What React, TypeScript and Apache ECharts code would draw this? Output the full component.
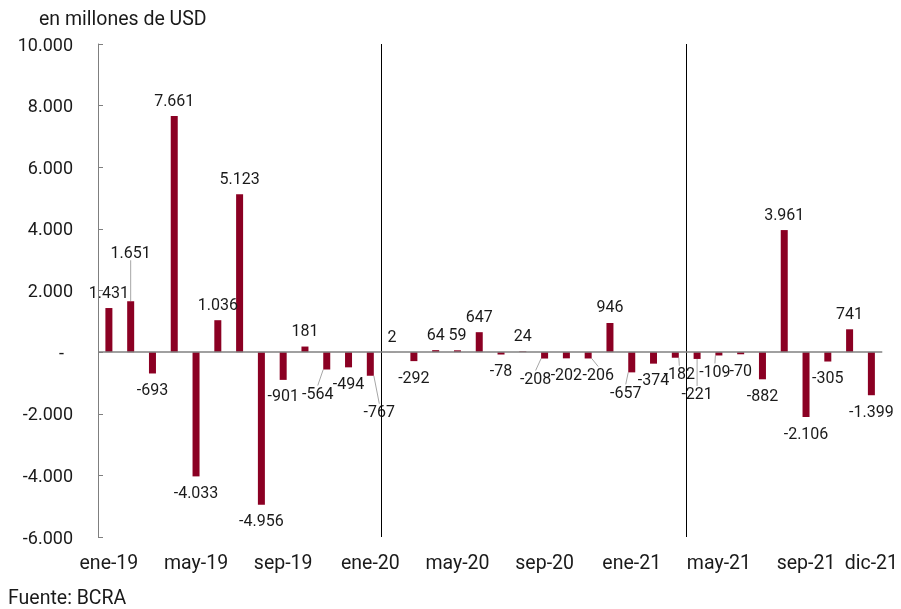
import React, { useEffect, useRef } from "react";
import * as echarts from "echarts";

const categories = [
  "ene-19", "feb-19", "mar-19", "abr-19", "may-19", "jun-19", "jul-19", "ago-19", "sep-19", "oct-19", "nov-19", "dic-19",
  "ene-20", "feb-20", "mar-20", "abr-20", "may-20", "jun-20", "jul-20", "ago-20", "sep-20", "oct-20", "nov-20", "dic-20",
  "ene-21", "feb-21", "mar-21", "abr-21", "may-21", "jun-21", "jul-21", "ago-21", "sep-21", "oct-21", "nov-21", "dic-21",
];

const values = [
  1431, 1651, -693, 7661, -4033, 1036, 5123, -4956, -901, 181, -564, -494,
  -767, 2, -292, 64, 59, 647, -78, 24, -208, -202, -206, 946,
  -657, -374, -182, -221, -109, -70, -882, 3961, -2106, -305, 741, -1399,
];

// vertical separator positions (category boundaries, in category units)
const separators = [13, 27];

// label nudges (style only), keyed by data index
const labelNudges: Record<number, [number, number]> = {
  1: [0, -33],
  10: [-9, 8],
  12: [9, 20],
  20: [-9, 4],
  22: [10, 0],
  24: [-6, 4],
  26: [4, 0],
  27: [0, 19],
  28: [-4, 0],
};

const fmt = (v: number) => {
  const s = Math.abs(v).toString().replace(/\B(?=(\d{3})+(?!\d))/g, ".");
  return (v < 0 ? "-" : "") + s;
};

export default function App() {
  const ref = useRef<HTMLDivElement>(null);
  useEffect(() => {
    if (!ref.current) return;
    const chart = echarts.init(ref.current, null, { renderer: "svg" });
    const font = "Roboto";
    chart.setOption({
      animation: false,
      textStyle: { fontFamily: font },
      grid: { left: 98, right: 18, top: 44, bottom: 72, containLabel: false },
      xAxis: [
        {
          type: "category",
          data: categories,
          axisLine: { show: false, onZero: false },
          axisTick: { show: false },
          axisLabel: {
            interval: (i: number) => i % 4 === 0 || i === categories.length - 1,
            color: "#1a1a1a",
            fontSize: 19.5,
            fontFamily: font,
            margin: 15,
          },
        },
        { type: "value", min: 0, max: categories.length, show: false },
      ],
      yAxis: {
        type: "value",
        min: -6000,
        max: 10000,
        interval: 2000,
        axisLine: { show: true, lineStyle: { color: "#7f7f7f", width: 1 } },
        axisTick: { show: true, inside: true, length: 5, lineStyle: { color: "#7f7f7f" } },
        splitLine: { show: false },
        axisLabel: {
          color: "#1a1a1a",
          fontSize: 18,
          fontFamily: font,
          margin: 25,
          formatter: (v: number) => (v === 0 ? "-  " : fmt(v)),
        },
      },
      series: [
        {
          type: "bar",
          barWidth: 7,
          itemStyle: { color: "#8B0023" },
          data: values.map((v, i) => ({
            value: v,
            label: { position: v >= 0 ? "top" : "bottom" },
            labelLine: { show: !!labelNudges[i], lineStyle: { color: "#a6a6a6", width: 1 } },
          })),
          label: {
            show: true,
            distance: 8,
            color: "#1a1a1a",
            fontSize: 16,
            fontFamily: font,
            formatter: (p: any) => fmt(p.value),
          },
          labelLayout: (p: any) => {
            const n = labelNudges[p.dataIndex];
            return n ? { dx: n[0], dy: n[1] } : {};
          },
          z: 3,
        },
        {
          type: "line",
          xAxisIndex: 1,
          data: [],
          silent: true,
          markLine: {
            symbol: "none",
            silent: true,
            label: { show: false },
            data: [
              ...separators.map((x) => ({ xAxis: x, lineStyle: { color: "#000", width: 1, type: "solid" } })),
              { yAxis: 0, lineStyle: { color: "#808080", width: 1.5, type: "solid" } },
            ],
          },
        },
      ],
      graphic: [
        { type: "text", left: 39, top: 8, style: { text: "en millones de USD", fontSize: 19.5, fontFamily: font, fill: "#1a1a1a" } },
        { type: "text", left: 8, top: 587, style: { text: "Fuente: BCRA", fontSize: 19.5, fontFamily: font, fill: "#1a1a1a" } },
      ],
    });
    return () => chart.dispose();
  }, []);
  return <div ref={ref} style={{ position: "fixed", left: 0, top: 0, width: 901, height: 609 }} />;
}
